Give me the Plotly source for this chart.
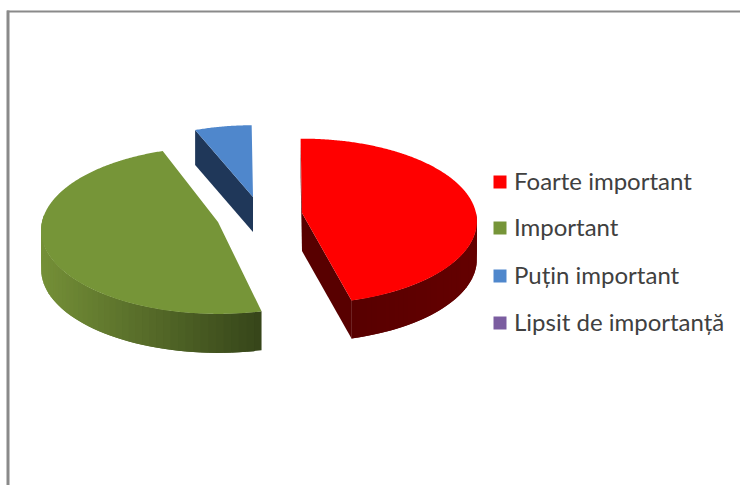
import math
import plotly.graph_objects as go

categories = ["Foarte important", "Important", "Puțin important", "Lipsit de importanță"]
values = [46, 48, 6, 0]

top_colors = ["#ff0000", "#769538", "#4f87cc", "#7b5da0"]
wall_light = ["#640000", "#748f37", "#1f3759", "#4a3863"]
wall_dark = ["#580000", "#37461a", "#1f3759", "#4a3863"]
apexes = [(302, 213), (218, 222), (253, 197), (253, 197)]
radii = [174, 176, 168, 168]
depths = [38, 39, 35, 35]
turns = [0, 2, 0, 0]
legend_y = [182, 228, 276, 323]
label_y = [184, 230, 278, 325]
START = -0.5
K, TILT = 0.1, 0.47
W, H = 740, 485


def project(theta, apex, r):
    a = math.radians(theta)
    u, v = math.sin(a), math.cos(a)
    s = 1 / (1 + K * v)
    return apex[0] + r * u * s, apex[1] - r * TILT * v * s


def mix(c1, c2, f):
    p = [int(c1[i:i + 2], 16) for i in (1, 3, 5)]
    q = [int(c2[i:i + 2], 16) for i in (1, 3, 5)]
    return "rgb(%d,%d,%d)" % tuple(round(a + (b - a) * f) for a, b in zip(p, q))


def poly(fig, pts, color, name):
    fig.add_trace(go.Scatter(
        x=[p[0] for p in pts] + [pts[0][0]], y=[p[1] for p in pts] + [pts[0][1]],
        mode="none", fill="toself", fillcolor=color,
        name=name, hoverinfo="name", showlegend=False))


fig = go.Figure()
total = sum(values)
angle = START
spans = []
for val, turn in zip(values, turns):
    end = angle + 360 * val / total
    spans.append((angle + turn, end + turn))
    angle = end

for i in [2, 0, 1]:
    t0, t1 = spans[i]
    apex, r, d, name = apexes[i], radii[i], depths[i], categories[i]
    down = lambda p: (p[0], p[1] + d)
    # cut faces
    for t in (t0, t1):
        e = project(t, apex, r)
        if (i == 0) or (i == 2 and t == t0):
            poly(fig, [apex, e, down(e), down(apex)], wall_dark[i], name)
    # rim, painted from the far end so each piece overlaps the next
    lo, hi = max(t0, 90), min(t1, 275)
    if hi > lo:
        xs = project(lo, apex, r)[0], project(hi, apex, r)[0]
        n = 48
        for j in range(n):
            a = lo + (hi - lo) * j / n
            b = lo + (hi - lo) * min(j + 2, n) / n
            pa, pb = project(a, apex, r), project(b, apex, r)
            f = (pa[0] - min(xs)) / (max(xs) - min(xs))
            if i == 0:
                f = 1 - f
            poly(fig, [pa, pb, down(pb), down(pa)], mix(wall_light[i], wall_dark[i], f), name)
    # top
    steps = max(4, int((t1 - t0) * 2))
    arc = [project(t0 + (t1 - t0) * j / steps, apex, r) for j in range(steps + 1)]
    poly(fig, [apex] + arc, top_colors[i], name)

fig.add_trace(go.Scatter(
    x=[500] * len(categories), y=legend_y, mode="markers",
    marker=dict(symbol="square", size=13, color=top_colors, line=dict(width=0)),
    text=categories, hoverinfo="text", showlegend=False))
fig.add_trace(go.Scatter(
    x=[514] * len(categories), y=label_y, mode="text", text=categories,
    textposition="middle right", hoverinfo="skip", showlegend=False,
    textfont=dict(family="Lato", size=24, color="#404040")))

border = "#8a8a8a"
fig.update_layout(
    width=W, height=H, margin=dict(l=0, r=0, t=0, b=0), autosize=False,
    paper_bgcolor="white", plot_bgcolor="white", showlegend=False,
    xaxis=dict(range=[0, W], visible=False, fixedrange=True),
    yaxis=dict(range=[H, 0], visible=False, fixedrange=True),
    shapes=[
        dict(type="line", xref="x", yref="y", x0=7, x1=W, y0=11.5, y1=11.5, line=dict(color=border, width=2)),
        dict(type="line", xref="x", yref="y", x0=8, x1=8, y0=10.5, y1=H, line=dict(color=border, width=3)),
    ])
fig.write_html("out.html", config={"displayModeBar": False},
               post_script="document.body.style.margin='0';document.body.style.overflow='hidden';")
